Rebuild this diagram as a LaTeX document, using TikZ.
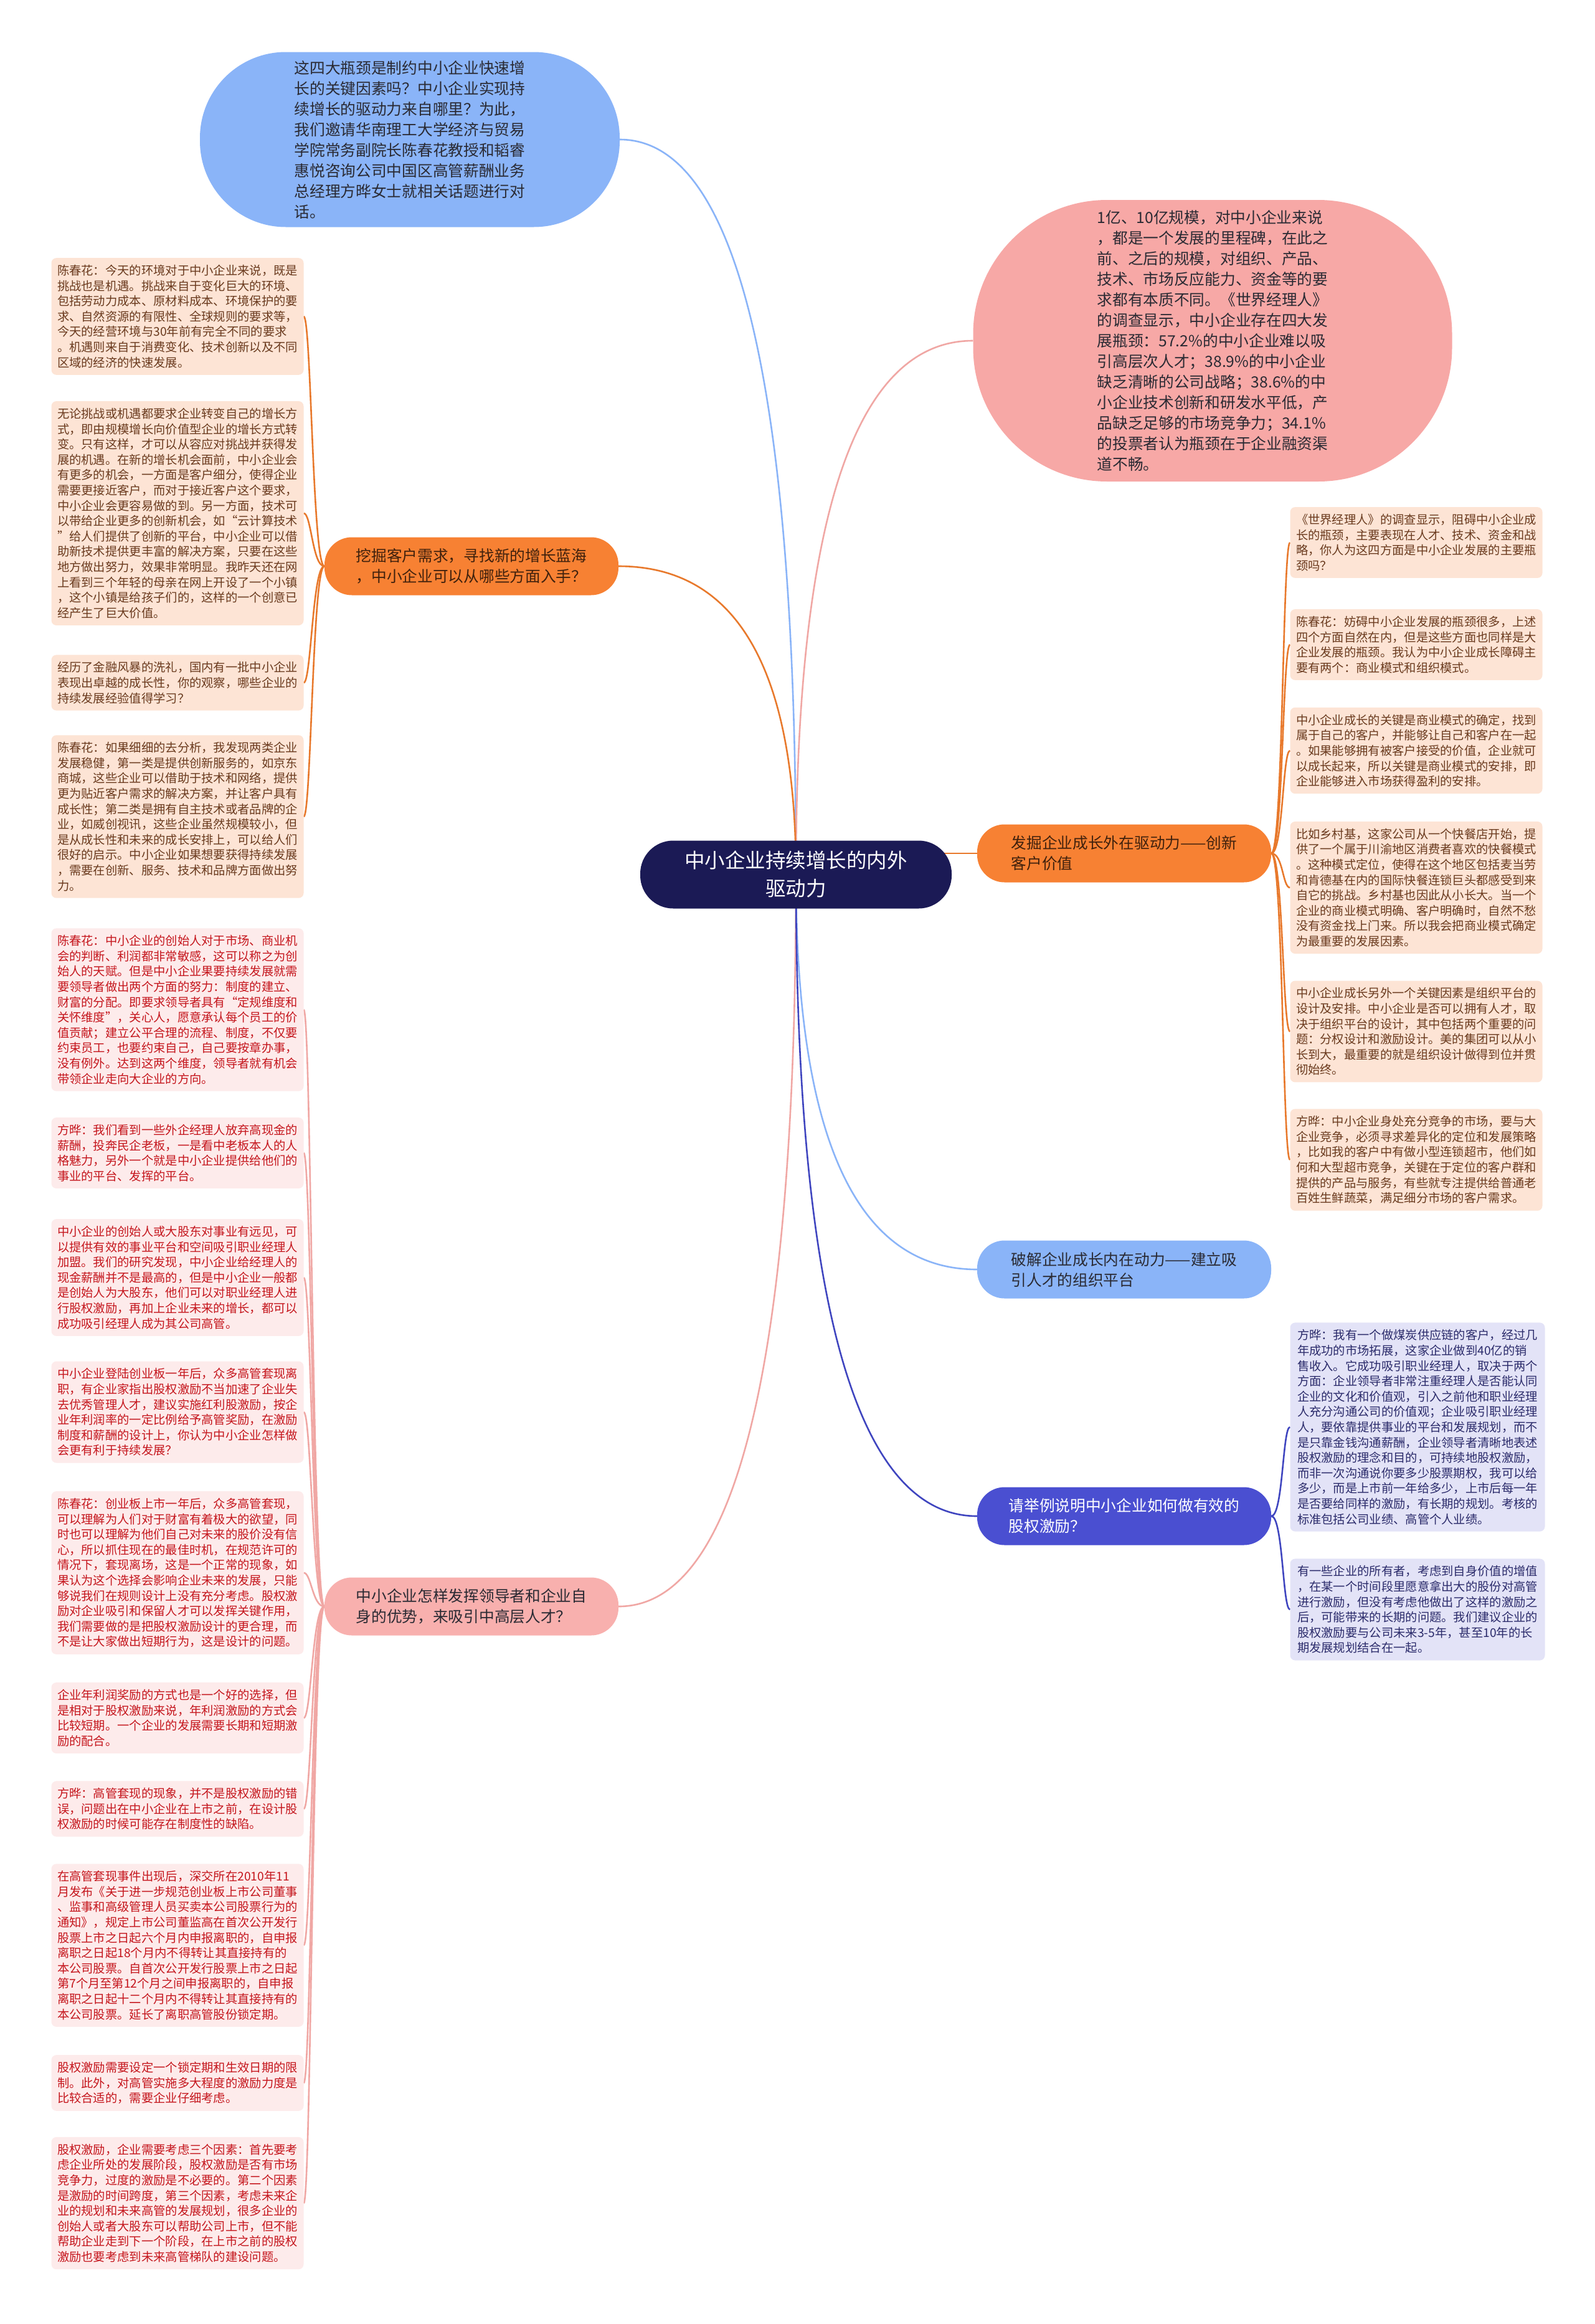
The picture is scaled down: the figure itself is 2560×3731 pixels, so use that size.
\documentclass[tikz,border=0pt]{standalone}
\usepackage{fontspec}
\newfontfamily\cjk{Noto Sans CJK SC}
\usetikzlibrary{backgrounds,calc}
\definecolor{navy}{HTML}{1B1A55}
\definecolor{bblue}{HTML}{8AB4F8}
\definecolor{bpink}{HTML}{F7A8A6}
\definecolor{orfill}{HTML}{F78133}
\definecolor{orline}{HTML}{E8792C}
\definecolor{peach}{HTML}{FDE4D5}
\definecolor{peachtext}{HTML}{6A3A1E}
\definecolor{pinkbr}{HTML}{F8B0AE}
\definecolor{pinkline}{HTML}{F0A7A4}
\definecolor{pinkleaf}{HTML}{FDEBEB}
\definecolor{redtext}{HTML}{C5161D}
\definecolor{indigo}{HTML}{4A4FD1}
\definecolor{indline}{HTML}{3F45BF}
\definecolor{lav}{HTML}{E3E3F7}
\definecolor{lavtext}{HTML}{2B2B6B}
\definecolor{darktext}{HTML}{2A2A33}
\definecolor{brtext}{HTML}{40210D}
\begin{document}
\begin{tikzpicture}[x=1pt,y=-1pt,
  leafbase/.style={rounded corners=8pt, inner xsep=9pt, inner ysep=11pt, align=left,
    font=\cjk\fontsize{19.3pt}{24.6pt}\selectfont},
  leafo/.style={leafbase, fill=peach, text=peachtext, minimum width=405pt},
  leafp/.style={leafbase, fill=pinkleaf, text=redtext, minimum width=405pt},
  leafv/.style={leafbase, fill=lav, text=lavtext, minimum width=409pt},
  branchbox/.style={rounded corners=44pt, minimum width=472pt, minimum height=93pt,
    inner xsep=20pt, align=left, font=\cjk\fontsize{24.7pt}{33pt}\selectfont},
  bubble/.style={align=left, text=darktext, font=\cjk\fontsize{24.7pt}{33pt}\selectfont},
  centre/.style={fill=navy, text=white, rounded corners=53pt, minimum width=500pt,
    minimum height=109pt, align=center, font=\cjk\fontsize{32.5pt}{45pt}\selectfont},
  conO/.style={draw=orline, line width=2.6pt},
  conP/.style={draw=pinkline, line width=2.6pt},
  conB/.style={draw=bblue, line width=2.6pt},
  conI/.style={draw=indline, line width=2.6pt}
]
\useasboundingbox (0,0) rectangle (2560,3731);

% central
\node[centre] (c) at (1278,1404) {中小企业持续增长的内外\\驱动力};

% bubbles
\node[bubble, fill=bblue, minimum width=674pt, minimum height=281pt, rounded corners=138pt] (t1) at (658,224)
{这四大瓶颈是制约中小企业快速增\\长的关键因素吗？中小企业实现持\\续增长的驱动力来自哪里？为此，\\我们邀请华南理工大学经济与贸易\\学院常务副院长陈春花教授和韬睿\\惠悦咨询公司中国区高管薪酬业务\\总经理方晔女士就相关话题进行对\\话。};

\node[bubble, fill=bpink, minimum width=769pt, minimum height=452pt, rounded corners=215pt] (t2) at (1947,547)
{1亿、10亿规模，对中小企业来说\\，都是一个发展的里程碑，在此之\\前、之后的规模，对组织、产品、\\技术、市场反应能力、资金等的要\\求都有本质不同。《世界经理人》\\的调查显示，中小企业存在四大发\\展瓶颈：57.2\%的中小企业难以吸\\引高层次人才；38.9\%的中小企业\\缺乏清晰的公司战略；38.6\%的中\\小企业技术创新和研发水平低，产\\品缺乏足够的市场竞争力；34.1\%\\的投票者认为瓶颈在于企业融资渠\\道不畅。};

% branches
\node[branchbox, fill=orfill, text=brtext] (b1) at (757,909)
{挖掘客户需求，寻找新的增长蓝海\\，中小企业可以从哪些方面入手？};
\node[branchbox, fill=pinkbr, text=darktext] (b2) at (757,2579)
{中小企业怎样发挥领导者和企业自\\身的优势，来吸引中高层人才？};
\node[branchbox, fill=orfill, text=brtext] (b3) at (1805,1370)
{发掘企业成长外在驱动力——创新\\客户价值};
\node[branchbox, fill=bblue, text=darktext] (b4) at (1805,2038)
{破解企业成长内在动力——建立吸\\引人才的组织平台};
\node[branchbox, fill=indigo, text=white] (b5) at (1805,2434)
{请举例说明中小企业如何做有效的\\股权激励？};

% left leaves (orange branch)
\node[leafo] (L1) at (285,508)
{陈春花：今天的环境对于中小企业来说，既是\\挑战也是机遇。挑战来自于变化巨大的环境、\\包括劳动力成本、原材料成本、环境保护的要\\求、自然资源的有限性、全球规则的要求等，\\今天的经营环境与30年前有完全不同的要求\\。机遇则来自于消费变化、技术创新以及不同\\区域的经济的快速发展。};
\node[leafo] (L2) at (285,824)
{无论挑战或机遇都要求企业转变自己的增长方\\式，即由规模增长向价值型企业的增长方式转\\变。只有这样，才可以从容应对挑战并获得发\\展的机遇。在新的增长机会面前，中小企业会\\有更多的机会，一方面是客户细分，使得企业\\需要更接近客户，而对于接近客户这个要求，\\中小企业会更容易做的到。另一方面，技术可\\以带给企业更多的创新机会，如“云计算技术\\”给人们提供了创新的平台，中小企业可以借\\助新技术提供更丰富的解决方案，只要在这些\\地方做出努力，效果非常明显。我昨天还在网\\上看到三个年轻的母亲在网上开设了一个小镇\\，这个小镇是给孩子们的，这样的一个创意已\\经产生了巨大价值。};
\node[leafo] (L3) at (285,1096)
{经历了金融风暴的洗礼，国内有一批中小企业\\表现出卓越的成长性，你的观察，哪些企业的\\持续发展经验值得学习？};
\node[leafo] (L4) at (285,1311)
{陈春花：如果细细的去分析，我发现两类企业\\发展稳健，第一类是提供创新服务的，如京东\\商城，这些企业可以借助于技术和网络，提供\\更为贴近客户需求的解决方案，并让客户具有\\成长性；第二类是拥有自主技术或者品牌的企\\业，如威创视讯，这些企业虽然规模较小，但\\是从成长性和未来的成长安排上，可以给人们\\很好的启示。中小企业如果想要获得持续发展\\，需要在创新、服务、技术和品牌方面做出努\\力。};

% left leaves (pink branch)
\node[leafp] (L5) at (285,1621)
{陈春花：中小企业的创始人对于市场、商业机\\会的判断、利润都非常敏感，这可以称之为创\\始人的天赋。但是中小企业果要持续发展就需\\要领导者做出两个方面的努力：制度的建立、\\财富的分配。即要求领导者具有“定规维度和\\关怀维度”，关心人，愿意承认每个员工的价\\值贡献；建立公平合理的流程、制度，不仅要\\约束员工，也要约束自己，自己要按章办事，\\没有例外。达到这两个维度，领导者就有机会\\带领企业走向大企业的方向。};
\node[leafp] (L6) at (285,1851)
{方晔：我们看到一些外企经理人放弃高现金的\\薪酬，投奔民企老板，一是看中老板本人的人\\格魅力，另外一个就是中小企业提供给他们的\\事业的平台、发挥的平台。};
\node[leafp] (L7) at (285,2051)
{中小企业的创始人或大股东对事业有远见，可\\以提供有效的事业平台和空间吸引职业经理人\\加盟。我们的研究发现，中小企业给经理人的\\现金薪酬并不是最高的，但是中小企业一般都\\是创始人为大股东，他们可以对职业经理人进\\行股权激励，再加上企业未来的增长，都可以\\成功吸引经理人成为其公司高管。};
\node[leafp] (L8) at (285,2267)
{中小企业登陆创业板一年后，众多高管套现离\\职，有企业家指出股权激励不当加速了企业失\\去优秀管理人才，建议实施红利股激励，按企\\业年利润率的一定比例给予高管奖励，在激励\\制度和薪酬的设计上，你认为中小企业怎样做\\会更有利于持续发展？};
\node[leafp] (L9) at (285,2525)
{陈春花：创业板上市一年后，众多高管套现，\\可以理解为人们对于财富有着极大的欲望，同\\时也可以理解为他们自己对未来的股价没有信\\心，所以抓住现在的最佳时机，在规范许可的\\情况下，套现离场，这是一个正常的现象，如\\果认为这个选择会影响企业未来的发展，只能\\够说我们在规则设计上没有充分考虑。股权激\\励对企业吸引和保留人才可以发挥关键作用，\\我们需要做的是把股权激励设计的更合理，而\\不是让大家做出短期行为，这是设计的问题。};
\node[leafp] (L10) at (285,2758)
{企业年利润奖励的方式也是一个好的选择，但\\是相对于股权激励来说，年利润激励的方式会\\比较短期。一个企业的发展需要长期和短期激\\励的配合。};
\node[leafp] (L11) at (285,2904)
{方晔：高管套现的现象，并不是股权激励的错\\误，问题出在中小企业在上市之前，在设计股\\权激励的时候可能存在制度性的缺陷。};
\node[leafp] (L12) at (285,3123)
{在高管套现事件出现后，深交所在2010年11\\月发布《关于进一步规范创业板上市公司董事\\、监事和高级管理人员买卖本公司股票行为的\\通知》，规定上市公司董监高在首次公开发行\\股票上市之日起六个月内申报离职的，自申报\\离职之日起18个月内不得转让其直接持有的\\本公司股票。自首次公开发行股票上市之日起\\第7个月至第12个月之间申报离职的，自申报\\离职之日起十二个月内不得转让其直接持有的\\本公司股票。延长了离职高管股份锁定期。};
\node[leafp] (L13) at (285,3344)
{股权激励需要设定一个锁定期和生效日期的限\\制。此外，对高管实施多大程度的激励力度是\\比较合适的，需要企业仔细考虑。};
\node[leafp] (L14) at (285,3537)
{股权激励，企业需要考虑三个因素：首先要考\\虑企业所处的发展阶段，股权激励是否有市场\\竞争力，过度的激励是不必要的。第二个因素\\是激励的时间跨度，第三个因素，考虑未来企\\业的规划和未来高管的发展规划，很多企业的\\创始人或者大股东可以帮助公司上市，但不能\\帮助企业走到下一个阶段，在上市之前的股权\\激励也要考虑到未来高管梯队的建设问题。};

% right leaves (orange branch)
\node[leafo] (R1) at (2274,871)
{《世界经理人》的调查显示，阻碍中小企业成\\长的瓶颈，主要表现在人才、技术、资金和战\\略，你人为这四方面是中小企业发展的主要瓶\\颈吗？};
\node[leafo] (R2) at (2274,1035)
{陈春花：妨碍中小企业发展的瓶颈很多，上述\\四个方面自然在内，但是这些方面也同样是大\\企业发展的瓶颈。我认为中小企业成长障碍主\\要有两个：商业模式和组织模式。};
\node[leafo] (R3) at (2274,1205)
{中小企业成长的关键是商业模式的确定，找到\\属于自己的客户，并能够让自己和客户在一起\\。如果能够拥有被客户接受的价值，企业就可\\以成长起来，所以关键是商业模式的安排，即\\企业能够进入市场获得盈利的安排。};
\node[leafo] (R4) at (2274,1425)
{比如乡村基，这家公司从一个快餐店开始，提\\供了一个属于川渝地区消费者喜欢的快餐模式\\。这种模式定位，使得在这个地区包括麦当劳\\和肯德基在内的国际快餐连锁巨头都感受到来\\自它的挑战。乡村基也因此从小长大。当一个\\企业的商业模式明确、客户明确时，自然不愁\\没有资金找上门来。所以我会把商业模式确定\\为最重要的发展因素。};
\node[leafo] (R5) at (2274,1656)
{中小企业成长另外一个关键因素是组织平台的\\设计及安排。中小企业是否可以拥有人才，取\\决于组织平台的设计，其中包括两个重要的问\\题：分权设计和激励设计。美的集团可以从小\\长到大，最重要的就是组织设计做得到位并贯\\彻始终。};
\node[leafo] (R6) at (2274,1862)
{方晔：中小企业身处充分竞争的市场，要与大\\企业竞争，必须寻求差异化的定位和发展策略\\，比如我的客户中有做小型连锁超市，他们如\\何和大型超市竞争，关键在于定位的客户群和\\提供的产品与服务，有些就专注提供给普通老\\百姓生鲜蔬菜，满足细分市场的客户需求。};

% right leaves (indigo branch)
\node[leafv] (R7) at (2276,2291)
{方晔：我有一个做煤炭供应链的客户，经过几\\年成功的市场拓展，这家企业做到40亿的销\\售收入。它成功吸引职业经理人，取决于两个\\方面：企业领导者非常注重经理人是否能认同\\企业的文化和价值观，引入之前他和职业经理\\人充分沟通公司的价值观；企业吸引职业经理\\人，要依靠提供事业的平台和发展规划，而不\\是只靠金钱沟通薪酬，企业领导者清晰地表述\\股权激励的理念和目的，可持续地股权激励，\\而非一次沟通说你要多少股票期权，我可以给\\多少，而是上市前一年给多少，上市后每一年\\是否要给同样的激励，有长期的规划。考核的\\标准包括公司业绩、高管个人业绩。};
\node[leafv] (R8) at (2276,2584)
{有一些企业的所有者，考虑到自身价值的增值\\，在某一个时间段里愿意拿出大的股份对高管\\进行激励，但没有考虑他做出了这样的激励之\\后，可能带来的长期的问题。我们建议企业的\\股权激励要与公司未来3-5年，甚至10年的长\\期发展规划结合在一起。};

% corner coordinates for the main curves
\coordinate (k1) at (c.center |- t1.east);
\coordinate (k2) at (c.center |- t2.west);
\coordinate (k3) at (c.center |- b1.east);
\coordinate (k4) at (c.center |- b2.east);
\coordinate (k5) at (c.center |- b4.west);
\coordinate (k6) at (c.center |- b5.west);
\coordinate (k7) at (c.center |- b3.west);

\begin{pgfonlayer}{background}
\fill[white] (0,0) rectangle (2560,3731);
% main connectors
\draw[conB] (c.center) .. controls ($(c.center)!0.667!(k1)$) and ($(t1.east)!0.667!(k1)$) .. (t1.east);
\draw[conP] (c.center) .. controls ($(c.center)!0.667!(k2)$) and ($(t2.west)!0.667!(k2)$) .. (t2.west);
\draw[conO] (c.center) .. controls ($(c.center)!0.667!(k3)$) and ($(b1.east)!0.667!(k3)$) .. (b1.east);
\draw[conP] (c.center) .. controls ($(c.center)!0.667!(k4)$) and ($(b2.east)!0.667!(k4)$) .. (b2.east);
\draw[conB] (c.center) .. controls ($(c.center)!0.667!(k5)$) and ($(b4.west)!0.667!(k5)$) .. (b4.west);
\draw[conI] (c.center) .. controls ($(c.center)!0.667!(k6)$) and ($(b5.west)!0.667!(k6)$) .. (b5.west);
\draw[conO] (k7) -- (b3.west);
% left leaf connectors
\foreach \l in {L1,L2,L3,L4}
  \draw[conO] (b1.west) .. controls ($(b1.west)+(-19,0)$) and ($(\l.east)+(12,0)$) .. (\l.east);
\foreach \l in {L5,L6,L7,L8,L9,L10,L11,L12,L13,L14}
  \draw[conP] (b2.west) .. controls ($(b2.west)+(-19,0)$) and ($(\l.east)+(12,0)$) .. (\l.east);
% right leaf connectors
\foreach \r in {R1,R2,R3,R4,R5,R6}
  \draw[conO] (b3.east) .. controls ($(b3.east)+(19,0)$) and ($(\r.west)+(-12,0)$) .. (\r.west);
\foreach \r in {R7,R8}
  \draw[conI] (b5.east) .. controls ($(b5.east)+(19,0)$) and ($(\r.west)+(-12,0)$) .. (\r.west);
\end{pgfonlayer}
\end{tikzpicture}
\end{document}
